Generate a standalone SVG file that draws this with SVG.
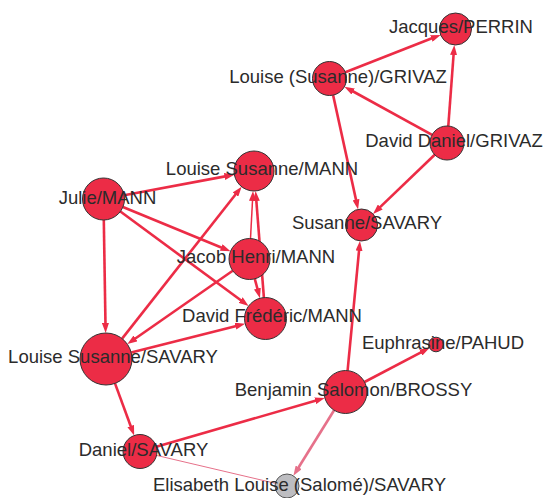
<svg xmlns="http://www.w3.org/2000/svg" width="545" height="498" viewBox="0 0 545 498">
  <style>
    .edge { stroke: #ec2c46; stroke-width: 2.6; fill: none; marker-end: url(#arrow); }
    .thin { stroke-width: 1.5; }
    .soft { stroke: #e6718a; marker-end: url(#arrowSoft); }
    .faint { stroke: #e6718a; stroke-width: 1; marker-end: none; }
    .node { fill: #ec2c46; stroke: #333; stroke-width: 1; }
    .gray { fill: #bdbdc1; stroke: #555; }
    .label { font-family: "Liberation Sans", Arial, sans-serif; font-size: 18.5px; fill: #2b2b2b; text-anchor: middle; }
  </style>
  <defs>
    <marker id="arrow" markerUnits="userSpaceOnUse" markerWidth="10" markerHeight="7" refX="2" refY="3.5" orient="auto">
      <path d="M0,0 L10,3.5 L0,7 z" fill="#ec2c46"/>
    </marker>
    <marker id="arrowSoft" markerUnits="userSpaceOnUse" markerWidth="10" markerHeight="7" refX="2" refY="3.5" orient="auto">
      <path d="M0,0 L10,3.5 L0,7 z" fill="#e6718a"/>
    </marker>
  </defs>

  <g id="edges">
    <line class="edge" x1="345.3" y1="72.3" x2="433.2" y2="37.8"/>
    <line class="edge" x1="448.3" y1="126.0" x2="453.7" y2="53.0"/>
    <line class="edge" x1="432.1" y1="134.8" x2="351.4" y2="90.5"/>
    <line class="edge" x1="333.1" y1="95.1" x2="356.4" y2="201.6"/>
    <line class="edge" x1="434.7" y1="154.8" x2="378.8" y2="208.4"/>
    <line class="edge" x1="347.6" y1="370.6" x2="359.2" y2="248.9"/>
    <line class="edge" x1="364.5" y1="382.0" x2="422.4" y2="351.6"/>
    <line class="edge soft" x1="334.1" y1="410.3" x2="297.6" y2="469.0"/>
    <line class="edge" x1="156.3" y1="446.8" x2="317.1" y2="400.2"/>
    <line class="edge faint" x1="156.5" y1="455.4" x2="275.3" y2="483.3"/>
    <line class="edge" x1="115.0" y1="383.4" x2="131.4" y2="428.0"/>
    <line class="edge" x1="131.2" y1="352.6" x2="237.4" y2="325.7"/>
    <line class="edge" x1="122.1" y1="338.6" x2="236.7" y2="193.0"/>
    <line class="edge" x1="232.7" y1="270.7" x2="133.9" y2="339.5"/>
    <line class="edge" x1="103.8" y1="220.0" x2="105.5" y2="325.0"/>
    <line class="edge" x1="124.1" y1="195.2" x2="226.5" y2="176.1"/>
    <line class="edge" x1="122.9" y1="207.0" x2="223.1" y2="248.2"/>
    <line class="edge" x1="120.4" y1="211.5" x2="242.2" y2="301.3"/>
    <line class="edge thin" x1="250.5" y1="238.5" x2="252.6" y2="199.0"/>
    <line class="edge" x1="263.9" y1="297.6" x2="256.2" y2="199.0"/>
    <line class="edge" x1="254.8" y1="278.8" x2="257.9" y2="290.5"/>
  </g>

  <g id="n-jacques-perrin">
    <circle class="node" cx="455.5" cy="29" r="16"/>
    <text class="label" x="461" y="33">Jacques/PERRIN</text>
  </g>
  <g id="n-louise-susanne-grivaz">
    <circle class="node" cx="329.5" cy="78.5" r="17"/>
    <text class="label" x="338" y="82.5">Louise (Susanne)/GRIVAZ</text>
  </g>
  <g id="n-david-daniel-grivaz">
    <circle class="node" cx="447" cy="143" r="17"/>
    <text class="label" x="454" y="146.5">David Daniel/GRIVAZ</text>
  </g>
  <g id="n-susanne-savary">
    <circle class="node" cx="361.5" cy="225" r="16"/>
    <text class="label" x="367" y="228.5">Susanne/SAVARY</text>
  </g>
  <g id="n-louise-susanne-mann">
    <circle class="node" cx="254" cy="171" r="20"/>
    <text class="label" x="262" y="175">Louise Susanne/MANN</text>
  </g>
  <g id="n-julie-mann">
    <circle class="node" cx="103.5" cy="199" r="21"/>
    <text class="label" x="107.5" y="204">Julie/MANN</text>
  </g>
  <g id="n-jacob-henri-mann">
    <circle class="node" cx="249.5" cy="259" r="20.5"/>
    <text class="label" x="256" y="263">Jacob Henri/MANN</text>
  </g>
  <g id="n-david-frederic-mann">
    <circle class="node" cx="265.5" cy="318.5" r="21"/>
    <text class="label" x="272" y="322">David Frédéric/MANN</text>
  </g>
  <g id="n-louise-susanne-savary">
    <circle class="node" cx="106" cy="359" r="26"/>
    <text class="label" x="113" y="362.5">Louise Susanne/SAVARY</text>
  </g>
  <g id="n-daniel-savary">
    <circle class="node" cx="140" cy="451.5" r="17"/>
    <text class="label" x="143.5" y="455.5">Daniel/SAVARY</text>
  </g>
  <g id="n-benjamin-salomon-brossy">
    <circle class="node" cx="345.5" cy="392" r="21.5"/>
    <text class="label" x="353.5" y="396">Benjamin Salomon/BROSSY</text>
  </g>
  <g id="n-euphrasine-pahud">
    <circle class="node" cx="436" cy="344.5" r="7.3"/>
    <text class="label" x="443" y="349">Euphrasine/PAHUD</text>
  </g>
  <g id="n-elisabeth-louise-salome-savary">
    <circle class="node gray" cx="287" cy="486" r="12"/>
    <text class="label" x="299.5" y="491">Elisabeth Louise (Salomé)/SAVARY</text>
  </g>
</svg>
